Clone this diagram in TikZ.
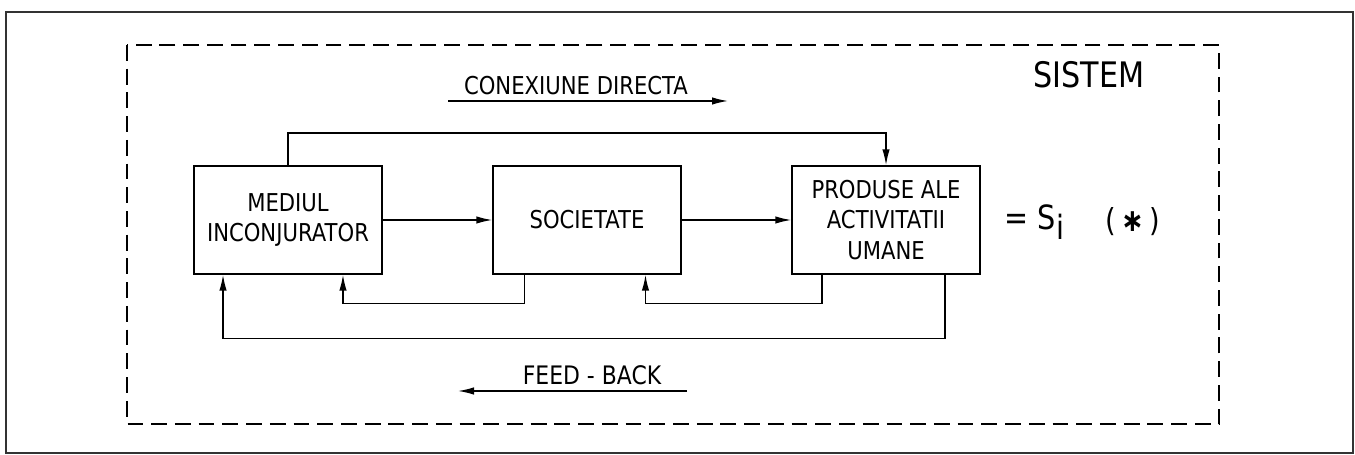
\documentclass[tikz,border=0pt]{standalone}
\usepackage{fontspec}
\setmainfont{DejaVu Sans}[FakeStretch=0.86]
\usetikzlibrary{arrows.meta}
\tikzset{my arrow/.style={
  black,
  -{Latex[length=3.2mm,width=1.5mm]}
  }
}
\tikzset{blok/.style={
  draw,
  minimum height=2.16cm,
  minimum width=3.76cm,
  inner sep=0pt,
  align=center,
  font=\fontsize{14}{17.5}\selectfont
  }
}

\begin{document}
\begin{tikzpicture}[x=0.02cm,y=-0.02cm,line width=0.85pt]
    \useasboundingbox (0,0) rectangle (1355,455);
    \draw[line width=1pt,black!80] (6,12) rectangle (1353,453);
    \draw[dash pattern=on 9pt off 4.5pt] (127,45) rectangle (1219,424);

    \node[blok] (mediul) at (288,220) {MEDIUL\\INCONJURATOR};
    \node[blok] (societate) at (587,220) {SOCIETATE};
    \node[blok] (produse) at (886,220) {PRODUSE ALE\\ACTIVITATII\\UMANE};

    \node[font=\fontsize{14}{17}\selectfont] (conex) at (576,86) {CONEXIUNE DIRECTA};
    \node[font=\fontsize{14.5}{17}\selectfont] (fb) at (592,375) {FEED - BACK};
    \node[font=\fontsize{20}{24}\selectfont] (sistem) at (1089,75) {SISTEM};
    \node[font=\fontsize{19}{22}\selectfont,anchor=west] (si) at (998,222) {= S\raisebox{-0.3em}{i}};
    \node[font=\fontsize{18}{20}\selectfont] (stea) at (1133,222) {(\,{\bfseries ∗}\,)};

    \coordinate (cd start) at (448,101);
    \coordinate (cd end) at (728,101);
    \coordinate (fb start) at (687,391);
    \coordinate (fb end) at (458,391);
    \coordinate (sus) at (0,133);

    \draw[my arrow] (cd start) to (cd end);
    \draw[my arrow] (fb start) to (fb end);

    \draw[my arrow] (mediul) to (societate);
    \draw[my arrow] (societate) to (produse);
    \draw[my arrow] (mediul.north) -- (mediul.north |- sus) -| (produse.north);

    \draw[my arrow] ([xshift=-1.25cm]societate.south) -- ++(0,29) -| ([xshift=1.1cm]mediul.south);
    \draw[my arrow] ([xshift=-1.28cm]produse.south) -- ++(0,29) -| ([xshift=1.17cm]societate.south);
    \draw[my arrow] ([xshift=1.18cm]produse.south) -- ++(0,64) -| ([xshift=-1.3cm]mediul.south);
\end{tikzpicture}
\end{document}
